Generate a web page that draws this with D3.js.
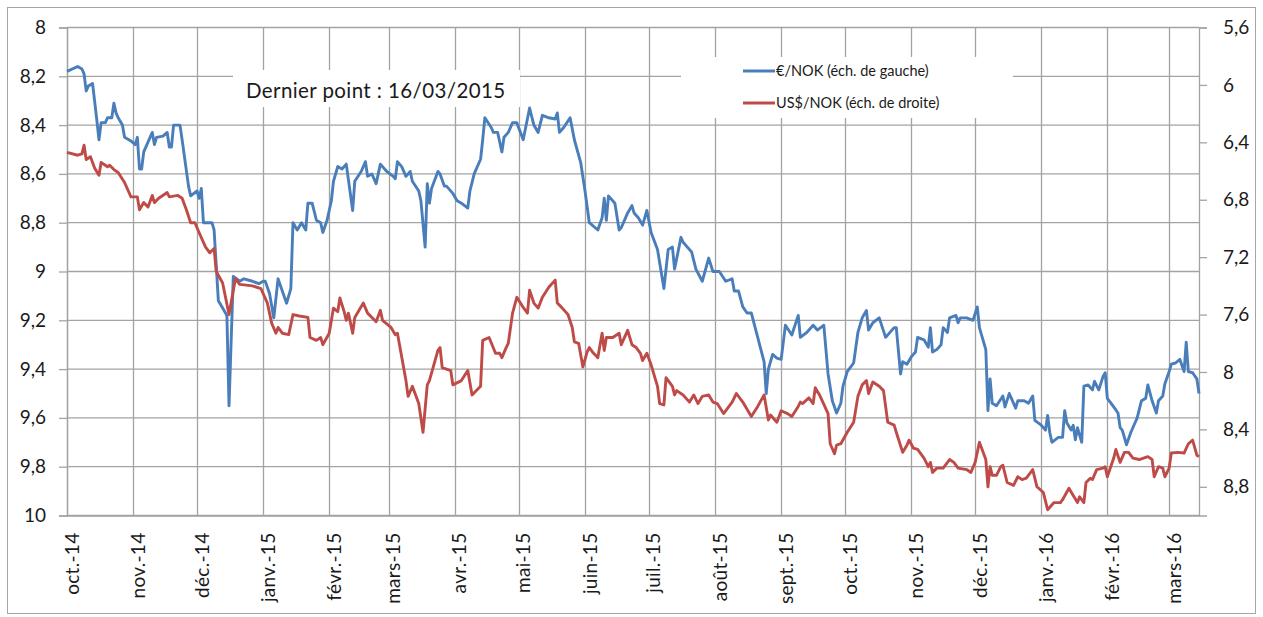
<!DOCTYPE html>
<html>
<head>
<meta charset="utf-8">
<script src="https://cdn.jsdelivr.net/npm/d3@7"></script>
<style>
body { margin: 0; background: #fff; }
svg text { font-family: Lato, "Open Sans", sans-serif; fill: #1a1a1a; }
</style>
</head>
<body>
<script>
// €/NOK, left scale
var eurDates = [
  "2014-10-01","2014-10-06","2014-10-08","2014-10-09","2014-10-10","2014-10-11","2014-10-13","2014-10-15","2014-10-16","2014-10-17","2014-10-19","2014-10-20","2014-10-22","2014-10-23","2014-10-24","2014-10-25","2014-10-27","2014-10-28","2014-10-30","2014-10-31",
  "2014-11-02","2014-11-03","2014-11-04","2014-11-05","2014-11-06","2014-11-10","2014-11-11","2014-11-12","2014-11-15","2014-11-17","2014-11-18","2014-11-19","2014-11-20","2014-11-23","2014-11-24","2014-11-27","2014-11-28",
  "2014-12-01","2014-12-02","2014-12-03","2014-12-04","2014-12-06","2014-12-08","2014-12-09","2014-12-11","2014-12-13","2014-12-15","2014-12-16","2014-12-18","2014-12-21","2014-12-23","2014-12-27","2014-12-30",
  "2015-01-01","2015-01-02","2015-01-04","2015-01-06","2015-01-08","2015-01-12","2015-01-14","2015-01-15","2015-01-17","2015-01-19","2015-01-21","2015-01-22","2015-01-24","2015-01-26","2015-01-28","2015-01-29","2015-01-31",
  "2015-02-02","2015-02-03","2015-02-05","2015-02-07","2015-02-09","2015-02-12","2015-02-13","2015-02-16","2015-02-18","2015-02-19","2015-02-21","2015-02-23","2015-02-25","2015-02-28",
  "2015-03-03","2015-03-04","2015-03-05","2015-03-07","2015-03-09","2015-03-11","2015-03-12","2015-03-15","2015-03-16","2015-03-18","2015-03-19","2015-03-20","2015-03-21","2015-03-24","2015-03-25","2015-03-27","2015-03-28","2015-03-31",
  "2015-04-02","2015-04-04","2015-04-07","2015-04-08","2015-04-10","2015-04-13","2015-04-14","2015-04-15","2015-04-18","2015-04-19","2015-04-21","2015-04-23","2015-04-24","2015-04-26","2015-04-28","2015-04-30",
  "2015-05-03","2015-05-06","2015-05-08","2015-05-10","2015-05-12","2015-05-15","2015-05-18","2015-05-19","2015-05-20","2015-05-22","2015-05-25","2015-05-27","2015-05-30",
  "2015-06-01","2015-06-03","2015-06-07","2015-06-09","2015-06-10","2015-06-11","2015-06-12","2015-06-15","2015-06-17","2015-06-18","2015-06-21","2015-06-23","2015-06-24","2015-06-26","2015-06-28","2015-06-30",
  "2015-07-02","2015-07-05","2015-07-08","2015-07-10","2015-07-12","2015-07-13","2015-07-16","2015-07-17","2015-07-19","2015-07-21","2015-07-23","2015-07-26","2015-07-29","2015-07-31",
  "2015-08-03","2015-08-06","2015-08-09","2015-08-10","2015-08-12","2015-08-14","2015-08-16","2015-08-18","2015-08-21","2015-08-24","2015-08-25","2015-08-26","2015-08-28","2015-08-30",
  "2015-09-01","2015-09-03","2015-09-06","2015-09-09","2015-09-10","2015-09-13","2015-09-16","2015-09-18","2015-09-21","2015-09-23","2015-09-25","2015-09-27","2015-09-29","2015-09-30",
  "2015-10-02","2015-10-05","2015-10-07","2015-10-09","2015-10-11","2015-10-12","2015-10-14","2015-10-17","2015-10-20","2015-10-24","2015-10-25","2015-10-27","2015-10-28","2015-10-30",
  "2015-11-01","2015-11-03","2015-11-04","2015-11-07","2015-11-09","2015-11-10","2015-11-11","2015-11-13","2015-11-15","2015-11-16","2015-11-18","2015-11-19","2015-11-22","2015-11-23","2015-11-24","2015-11-27","2015-11-30",
  "2015-12-02","2015-12-03","2015-12-06","2015-12-07","2015-12-08","2015-12-09","2015-12-11","2015-12-14","2015-12-15","2015-12-17","2015-12-18","2015-12-20","2015-12-21","2015-12-24","2015-12-26","2015-12-28","2015-12-29",
  "2016-01-01","2016-01-03","2016-01-04","2016-01-05","2016-01-06","2016-01-09","2016-01-11","2016-01-12","2016-01-13","2016-01-15","2016-01-16","2016-01-17","2016-01-18","2016-01-20","2016-01-21","2016-01-23","2016-01-25","2016-01-26","2016-01-28","2016-01-30","2016-01-31",
  "2016-02-01","2016-02-04","2016-02-06","2016-02-07","2016-02-08","2016-02-10","2016-02-12","2016-02-14","2016-02-15","2016-02-17","2016-02-19","2016-02-20","2016-02-22","2016-02-24","2016-02-25","2016-02-27","2016-02-28",
  "2016-03-01","2016-03-02","2016-03-04","2016-03-06","2016-03-08","2016-03-09","2016-03-10","2016-03-12","2016-03-14","2016-03-15"
];
var eurNok = [
  8.18,8.16,8.17,8.19,8.26,8.24,8.23,8.38,8.46,8.39,8.39,8.37,8.37,8.31,8.35,8.37,8.40,8.45,8.46,8.465,
  8.48,8.45,8.58,8.58,8.51,8.43,8.48,8.45,8.445,8.43,8.49,8.49,8.40,8.40,8.46,8.65,8.69,
  8.67,8.70,8.66,8.80,8.80,8.80,8.83,9.12,9.15,9.18,9.55,9.02,9.04,9.03,9.04,9.05,
  9.04,9.04,9.09,9.19,9.03,9.13,9.07,8.80,8.83,8.80,8.83,8.72,8.72,8.79,8.80,8.84,8.79,
  8.71,8.63,8.57,8.58,8.56,8.75,8.63,8.59,8.55,8.61,8.60,8.64,8.56,8.59,
  8.61,8.62,8.55,8.57,8.61,8.59,8.63,8.67,8.71,8.90,8.64,8.72,8.66,8.59,8.60,8.65,8.65,8.68,
  8.71,8.72,8.74,8.67,8.60,8.54,8.46,8.37,8.41,8.43,8.43,8.51,8.45,8.43,8.39,8.39,
  8.46,8.33,8.40,8.43,8.36,8.37,8.375,8.35,8.43,8.41,8.37,8.46,8.555,
  8.67,8.80,8.83,8.78,8.70,8.79,8.69,8.72,8.83,8.82,8.76,8.73,8.76,8.78,8.81,8.75,
  8.84,8.91,9.07,8.91,8.90,8.99,8.86,8.88,8.90,8.92,8.99,9.04,8.945,9.00,
  9.00,9.04,9.03,9.08,9.08,9.145,9.17,9.17,9.27,9.37,9.50,9.40,9.34,9.355,
  9.36,9.22,9.26,9.18,9.27,9.25,9.22,9.24,9.22,9.42,9.53,9.58,9.54,9.47,
  9.41,9.375,9.25,9.19,9.16,9.24,9.21,9.19,9.27,9.23,9.23,9.42,9.37,9.38,
  9.35,9.33,9.27,9.28,9.31,9.23,9.33,9.32,9.30,9.23,9.25,9.19,9.18,9.21,9.19,9.19,9.20,
  9.145,9.23,9.32,9.57,9.44,9.54,9.55,9.51,9.555,9.50,9.52,9.56,9.53,9.53,9.54,9.51,9.61,
  9.63,9.65,9.59,9.66,9.70,9.68,9.68,9.57,9.62,9.65,9.63,9.69,9.64,9.70,9.47,9.465,9.485,9.45,9.485,9.43,9.415,
  9.52,9.555,9.58,9.64,9.65,9.71,9.66,9.62,9.60,9.53,9.52,9.465,9.53,9.58,9.53,9.51,9.46,
  9.41,9.38,9.375,9.36,9.41,9.29,9.41,9.415,9.44,9.50
];

// US$/NOK, right scale
var usdDates = [
  "2014-10-01","2014-10-06","2014-10-08","2014-10-09","2014-10-10","2014-10-12","2014-10-14","2014-10-16","2014-10-17","2014-10-20","2014-10-21","2014-10-23","2014-10-25","2014-10-28","2014-10-31",
  "2014-11-03","2014-11-04","2014-11-06","2014-11-08","2014-11-10","2014-11-11","2014-11-13","2014-11-17","2014-11-18","2014-11-22","2014-11-24","2014-11-26","2014-11-28","2014-11-30",
  "2014-12-02","2014-12-05","2014-12-07","2014-12-09","2014-12-10","2014-12-13","2014-12-16","2014-12-19","2014-12-21","2014-12-27","2014-12-31",
  "2015-01-03","2015-01-05","2015-01-07","2015-01-08","2015-01-10","2015-01-13","2015-01-15","2015-01-18","2015-01-22","2015-01-23","2015-01-26","2015-01-28","2015-01-29",
  "2015-02-01","2015-02-03","2015-02-05","2015-02-06","2015-02-08","2015-02-09","2015-02-10","2015-02-12","2015-02-13","2015-02-17","2015-02-19","2015-02-23","2015-02-25","2015-02-26",
  "2015-03-02","2015-03-04","2015-03-05","2015-03-09","2015-03-10","2015-03-12","2015-03-15","2015-03-17","2015-03-19","2015-03-20","2015-03-24","2015-03-25","2015-03-26","2015-03-30","2015-03-31",
  "2015-04-04","2015-04-07","2015-04-09","2015-04-13","2015-04-14","2015-04-17","2015-04-20","2015-04-22","2015-04-23","2015-04-25","2015-04-26","2015-04-28","2015-04-30",
  "2015-05-03","2015-05-05","2015-05-06","2015-05-08","2015-05-10","2015-05-12","2015-05-15","2015-05-18","2015-05-19","2015-05-21","2015-05-24","2015-05-26","2015-05-27","2015-05-29","2015-05-31",
  "2015-06-02","2015-06-03","2015-06-05","2015-06-07","2015-06-09","2015-06-10","2015-06-11","2015-06-14","2015-06-17","2015-06-18","2015-06-21","2015-06-23","2015-06-25","2015-06-27","2015-06-28","2015-06-30",
  "2015-07-02","2015-07-05","2015-07-06","2015-07-08","2015-07-09","2015-07-12","2015-07-13","2015-07-14","2015-07-17","2015-07-20","2015-07-22","2015-07-24","2015-07-26","2015-07-29","2015-07-31",
  "2015-08-02","2015-08-05","2015-08-07","2015-08-09","2015-08-11","2015-08-14","2015-08-18","2015-08-21","2015-08-24","2015-08-26","2015-08-27","2015-08-30",
  "2015-09-01","2015-09-04","2015-09-06","2015-09-09","2015-09-10","2015-09-11","2015-09-14","2015-09-16","2015-09-17","2015-09-19","2015-09-23","2015-09-24","2015-09-26","2015-09-27","2015-09-29",
  "2015-10-02","2015-10-05","2015-10-07","2015-10-09","2015-10-11","2015-10-12","2015-10-14","2015-10-17","2015-10-19","2015-10-21","2015-10-24","2015-10-25","2015-10-28","2015-10-30","2015-10-31",
  "2015-11-02","2015-11-04","2015-11-07","2015-11-09","2015-11-10","2015-11-11","2015-11-13","2015-11-16","2015-11-19","2015-11-21","2015-11-23","2015-11-27","2015-11-29",
  "2015-12-01","2015-12-03","2015-12-06","2015-12-07","2015-12-08","2015-12-09","2015-12-11","2015-12-13","2015-12-14","2015-12-16","2015-12-19","2015-12-21","2015-12-23","2015-12-25","2015-12-28","2015-12-30",
  "2016-01-02","2016-01-04","2016-01-07","2016-01-10","2016-01-11","2016-01-14","2016-01-16","2016-01-18","2016-01-19","2016-01-21","2016-01-22","2016-01-24","2016-01-25","2016-01-27","2016-01-30","2016-01-31",
  "2016-02-01","2016-02-04","2016-02-05","2016-02-07","2016-02-09","2016-02-11","2016-02-13","2016-02-16","2016-02-20","2016-02-22","2016-02-23","2016-02-25","2016-02-27","2016-02-28",
  "2016-03-01","2016-03-02","2016-03-05","2016-03-08","2016-03-10","2016-03-12","2016-03-14","2016-03-15"
];
var usdNok = [
  6.47,6.49,6.48,6.42,6.52,6.50,6.58,6.63,6.54,6.57,6.56,6.59,6.61,6.68,6.78,
  6.78,6.87,6.82,6.85,6.77,6.82,6.79,6.75,6.78,6.77,6.79,6.87,6.96,6.96,
  7.03,7.13,7.17,7.14,7.30,7.38,7.60,7.35,7.39,7.40,7.42,
  7.52,7.66,7.73,7.69,7.73,7.74,7.60,7.61,7.62,7.76,7.78,7.76,7.81,
  7.73,7.555,7.58,7.485,7.58,7.64,7.59,7.73,7.62,7.52,7.59,7.65,7.57,7.64,
  7.69,7.74,7.73,8.06,8.17,8.10,8.22,8.42,8.09,8.06,7.85,7.83,7.97,7.99,8.09,
  8.06,7.99,8.16,8.10,7.78,7.76,7.87,7.87,7.90,7.83,7.80,7.59,7.48,
  7.55,7.59,7.43,7.52,7.555,7.48,7.41,7.36,7.52,7.55,7.60,7.69,7.79,7.80,7.965,
  7.86,7.83,7.87,7.90,7.73,7.85,7.76,7.76,7.73,7.81,7.71,7.81,7.83,7.87,7.92,7.87,
  7.95,8.10,8.22,8.23,8.04,8.10,8.16,8.13,8.16,8.21,8.16,8.22,8.17,8.16,8.21,
  8.22,8.29,8.25,8.21,8.15,8.21,8.31,8.24,8.16,8.335,8.30,8.35,
  8.27,8.29,8.31,8.24,8.21,8.22,8.18,8.22,8.11,8.16,8.29,8.50,8.57,8.51,8.50,
  8.42,8.35,8.17,8.09,8.06,8.15,8.07,8.10,8.13,8.35,8.37,8.42,8.56,8.51,8.475,
  8.53,8.54,8.60,8.66,8.63,8.70,8.67,8.67,8.61,8.63,8.67,8.68,8.70,
  8.63,8.49,8.61,8.80,8.66,8.72,8.72,8.66,8.65,8.77,8.79,8.73,8.75,8.74,8.68,8.80,
  8.84,8.96,8.91,8.91,8.89,8.81,8.86,8.91,8.87,8.91,8.77,8.74,8.75,8.68,8.67,8.66,
  8.73,8.60,8.54,8.63,8.56,8.56,8.60,8.61,8.59,8.61,8.73,8.66,8.67,8.73,
  8.67,8.565,8.56,8.565,8.50,8.475,8.58,8.59
];

var leftTicks = [8, 8.2, 8.4, 8.6, 8.8, 9, 9.2, 9.4, 9.6, 9.8, 10];
var rightTicks = [5.6, 6, 6.4, 6.8, 7.2, 7.6, 8, 8.4, 8.8];
var monthTicks = ["2014-10-01","2014-11-01","2014-12-01","2015-01-01","2015-02-01","2015-03-01","2015-04-01","2015-05-01","2015-06-01",
                  "2015-07-01","2015-08-01","2015-09-01","2015-10-01","2015-11-01","2015-12-01","2016-01-01","2016-02-01","2016-03-01"];
var monthLabels = ["oct.-14","nov.-14","déc.-14","janv.-15","févr.-15","mars-15","avr.-15","mai-15","juin-15",
                   "juil.-15","août-15","sept.-15","oct.-15","nov.-15","déc.-15","janv.-16","févr.-16","mars-16"];
var seriesNames = ["€/NOK (éch. de gauche)", "US$/NOK (éch. de droite)"];
var seriesColors = ["#4a7ebb", "#be4b48"];
var noteText = "Dernier point : 16/03/2015";

var width = 1263, height = 617;
var margin = {top: 27.5, right: 64, bottom: 101.5, left: 67};
var plotW = width - margin.left - margin.right,
    plotH = height - margin.top - margin.bottom;

var parseDate = d3.utcParse("%Y-%m-%d");
var fr = d3.formatLocale({decimal: ",", thousands: " ", grouping: [3], currency: ["", " €"]});
var fmt = fr.format(".1~f");

var svg = d3.select("body").append("svg")
    .attr("width", width)
    .attr("height", height);

// outer frame
svg.append("rect")
    .attr("x", 7.5).attr("y", 7.5)
    .attr("width", width - 15).attr("height", height - 11)
    .attr("fill", "#fff")
    .attr("stroke", "#a6a6a6");

var g = svg.append("g")
    .attr("transform", "translate(" + margin.left + "," + margin.top + ")");

var x = d3.scaleUtc()
    .domain([parseDate("2014-10-01"), parseDate("2016-03-15")])
    .range([0, plotW]);
var yL = d3.scaleLinear().domain([8, 10]).range([0, plotH]);
var yR = d3.scaleLinear().domain([5.6, 9]).range([0, plotH]);

var gridColor = "#a3a3a3";

// gridlines
g.append("g").selectAll("line")
    .data(leftTicks).enter().append("line")
    .attr("x1", 0).attr("x2", plotW)
    .attr("y1", function(d) { return yL(d); })
    .attr("y2", function(d) { return yL(d); })
    .attr("stroke", gridColor).attr("stroke-width", 1.3);

g.append("g").selectAll("line")
    .data(monthTicks).enter().append("line")
    .attr("x1", function(d) { return Math.round(x(parseDate(d))) + 0.5; })
    .attr("x2", function(d) { return Math.round(x(parseDate(d))) + 0.5; })
    .attr("y1", 0).attr("y2", plotH)
    .attr("stroke", gridColor).attr("stroke-width", 1.3);

// left axis
var leftAxis = g.append("g")
    .call(d3.axisLeft(yL).tickValues(leftTicks).tickSize(8).tickPadding(13).tickFormat(fmt));
// right axis
var rightAxis = g.append("g")
    .attr("transform", "translate(" + plotW + ",0)")
    .call(d3.axisRight(yR).tickValues(rightTicks).tickSize(8).tickPadding(16).tickFormat(fmt));
// bottom axis
var bottomAxis = g.append("g")
    .attr("transform", "translate(0," + plotH + ")")
    .call(d3.axisBottom(x).tickValues(monthTicks.map(parseDate)).tickSize(0)
        .tickFormat(function(d, i) { return monthLabels[i]; }));

[leftAxis, rightAxis, bottomAxis].forEach(function(a) {
    a.select(".domain").attr("stroke", gridColor).attr("stroke-width", 1.3);
    a.selectAll(".tick line").attr("stroke", gridColor).attr("stroke-width", 1.3);
    a.selectAll("text").style("font-size", "19px").attr("fill", "#1a1a1a");
});

bottomAxis.selectAll("text")
    .attr("text-anchor", "end")
    .attr("dy", null)
    .attr("y", 0)
    .style("letter-spacing", "0.3px")
    .attr("transform", "translate(11,17) rotate(-90)");

// white boxes behind note and legend
g.append("rect")
    .attr("x", 233 - margin.left).attr("y", 70 - margin.top)
    .attr("width", 287).attr("height", 37)
    .attr("fill", "#fff");
g.append("text")
    .attr("x", 246 - margin.left).attr("y", 98 - margin.top)
    .style("font-size", "20.5px")
    .style("letter-spacing", "0.4px")
    .text(noteText);

var legend = g.append("g")
    .attr("transform", "translate(" + (681 - margin.left) + "," + (57 - margin.top) + ")");
legend.append("rect")
    .attr("width", 332).attr("height", 61)
    .attr("fill", "#fff");
var item = legend.selectAll(".item")
    .data(seriesNames).enter().append("g")
    .attr("transform", function(d, i) { return "translate(62," + (14 + i * 32) + ")"; });
item.append("line")
    .attr("x1", 0).attr("x2", 32)
    .attr("stroke", function(d, i) { return seriesColors[i]; })
    .attr("stroke-width", 3);
item.append("text")
    .attr("x", 33).attr("dy", "0.35em")
    .style("font-size", "14.5px")
    .text(function(d) { return d; });

// series lines
var eurData = eurDates.map(function(d, i) { return {date: parseDate(d), value: eurNok[i]}; });
var usdData = usdDates.map(function(d, i) { return {date: parseDate(d), value: usdNok[i]}; });

g.append("path")
    .datum(eurData)
    .attr("fill", "none")
    .attr("stroke", seriesColors[0])
    .attr("stroke-width", 2.9)
    .attr("stroke-linejoin", "round")
    .attr("d", d3.line()
        .x(function(d) { return x(d.date); })
        .y(function(d) { return yL(d.value); }));

g.append("path")
    .datum(usdData)
    .attr("fill", "none")
    .attr("stroke", seriesColors[1])
    .attr("stroke-width", 2.9)
    .attr("stroke-linejoin", "round")
    .attr("d", d3.line()
        .x(function(d) { return x(d.date); })
        .y(function(d) { return yR(d.value); }));
</script>
</body>
</html>
